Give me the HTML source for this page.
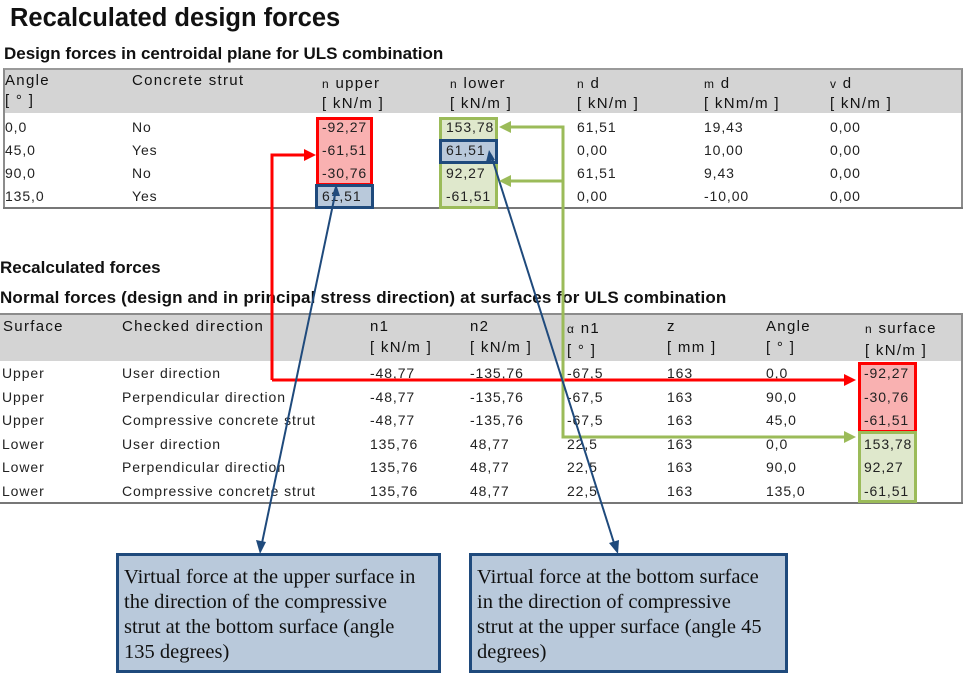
<!DOCTYPE html>
<html><head><meta charset="utf-8"><style>
body{margin:0;width:965px;height:674px;background:#fff;position:relative;overflow:hidden;font-family:"Liberation Sans",Arial,sans-serif;color:#222}
.t{position:absolute;font-size:14px;white-space:nowrap;line-height:16px;letter-spacing:0.9px}
.h{position:absolute;font-size:15px;white-space:nowrap;line-height:20px;color:#111;letter-spacing:1.3px}
.s{font-size:12px}
.b{position:absolute;box-sizing:border-box}
.box{position:absolute;box-sizing:border-box;background:#b9c9db;border:3px solid #1f4a7c;font-family:"Liberation Serif",serif;font-size:20.5px;line-height:25px;color:#111;padding:9px 14px 6px 5px}
</style></head><body>
<div class="t" style="left:10px;top:3px;font-size:25.5px;font-weight:bold;line-height:30px;color:#111;letter-spacing:0">Recalculated design forces</div>
<div class="t" style="left:4px;top:44px;font-size:17px;font-weight:bold;color:#111;letter-spacing:0;line-height:20px">Design forces in centroidal plane for ULS combination</div>

<!-- table 1 -->
<div class="b" style="left:3px;top:68px;width:960px;height:141px;border:2px solid #8c8c8c;border-top-color:#9a9a9a"></div>
<div class="b" style="left:5px;top:70px;width:956px;height:43px;background:#d4d4d4"></div>
<div class="b" style="left:3px;top:207px;width:960px;height:2px;background:#777"></div>
<div class="b" style="left:316px;top:117px;width:57px;height:69px;background:#f9b1b1;border:3px solid #f00"></div>
<div class="b" style="left:315px;top:184px;width:59px;height:25px;background:#b9c9db;border:3px solid #1f4a7c"></div>
<div class="b" style="left:439px;top:117px;width:59px;height:92px;background:#dfe8cc;border:3px solid #9bbb59"></div>
<div class="b" style="left:439px;top:139px;width:59px;height:25px;background:#b9c9db;border:3px solid #1f4a7c"></div>

<div class="h" style="left:5px;top:71px">Angle<br>[ ° ]</div>
<div class="h" style="left:132px;top:71px">Concrete strut</div>
<div class="h" style="left:322px;top:74px"><span class="s">n</span> upper<br>[ kN/m ]</div>
<div class="h" style="left:450px;top:74px"><span class="s">n</span> lower<br>[ kN/m ]</div>
<div class="h" style="left:577px;top:74px"><span class="s">n</span> d<br>[ kN/m ]</div>
<div class="h" style="left:704px;top:74px"><span class="s">m</span> d<br>[ kNm/m ]</div>
<div class="h" style="left:830px;top:74px"><span class="s">v</span> d<br>[ kN/m ]</div>

<div class="t" style="left:5px;top:116px;line-height:23px">0,0<br>45,0<br>90,0<br>135,0</div>
<div class="t" style="left:132px;top:116px;line-height:23px">No<br>Yes<br>No<br>Yes</div>
<div class="t" style="left:322px;top:116px;line-height:23px">-92,27<br>-61,51<br>-30,76<br>61,51</div>
<div class="t" style="left:446px;top:116px;line-height:23px">153,78<br>61,51<br>92,27<br>-61,51</div>
<div class="t" style="left:577px;top:116px;line-height:23px">61,51<br>0,00<br>61,51<br>0,00</div>
<div class="t" style="left:704px;top:116px;line-height:23px">19,43<br>10,00<br>9,43<br>-10,00</div>
<div class="t" style="left:830px;top:116px;line-height:23px">0,00<br>0,00<br>0,00<br>0,00</div>

<div class="t" style="left:0px;top:258px;font-size:17px;font-weight:bold;color:#111;letter-spacing:0;line-height:20px">Recalculated forces</div>
<div class="t" style="left:0px;top:288px;font-size:17px;font-weight:bold;color:#111;letter-spacing:0.15px;line-height:20px">Normal forces (design and in principal stress direction) at surfaces for ULS combination</div>

<!-- table 2 -->
<div class="b" style="left:0px;top:313px;width:963px;height:191px;border:2px solid #8c8c8c;border-left:none"></div>
<div class="b" style="left:0px;top:315px;width:961px;height:46px;background:#d4d4d4"></div>
<div class="b" style="left:0px;top:502px;width:963px;height:2px;background:#777"></div>
<div class="b" style="left:858px;top:362px;width:59px;height:71px;background:#f9b1b1;border:3px solid #f00"></div>
<div class="b" style="left:858px;top:431px;width:59px;height:72px;background:#dfe8cc;border:3px solid #9bbb59"></div>

<div class="h" style="left:3px;top:316px;line-height:21px">Surface</div>
<div class="h" style="left:122px;top:316px;line-height:21px">Checked direction</div>
<div class="h" style="left:370px;top:316px;line-height:21px">n1<br>[ kN/m ]</div>
<div class="h" style="left:470px;top:316px;line-height:21px">n2<br>[ kN/m ]</div>
<div class="h" style="left:567px;top:318px;line-height:21px"><span class="s">α</span> n1<br>[ ° ]</div>
<div class="h" style="left:667px;top:316px;line-height:21px">z<br>[ mm ]</div>
<div class="h" style="left:766px;top:316px;line-height:21px">Angle<br>[ ° ]</div>
<div class="h" style="left:865px;top:318px;line-height:21px"><span class="s">n</span> surface<br>[ kN/m ]</div>

<div class="t" style="left:2px;top:362px;line-height:23.5px">Upper<br>Upper<br>Upper<br>Lower<br>Lower<br>Lower</div>
<div class="t" style="left:122px;top:362px;line-height:23.5px">User direction<br>Perpendicular direction<br>Compressive concrete strut<br>User direction<br>Perpendicular direction<br>Compressive concrete strut</div>
<div class="t" style="left:370px;top:362px;line-height:23.5px">-48,77<br>-48,77<br>-48,77<br>135,76<br>135,76<br>135,76</div>
<div class="t" style="left:470px;top:362px;line-height:23.5px">-135,76<br>-135,76<br>-135,76<br>48,77<br>48,77<br>48,77</div>
<div class="t" style="left:567px;top:362px;line-height:23.5px">-67,5<br>-67,5<br>-67,5<br>22,5<br>22,5<br>22,5</div>
<div class="t" style="left:667px;top:362px;line-height:23.5px">163<br>163<br>163<br>163<br>163<br>163</div>
<div class="t" style="left:766px;top:362px;line-height:23.5px">0,0<br>90,0<br>45,0<br>0,0<br>90,0<br>135,0</div>
<div class="t" style="left:864px;top:362px;line-height:23.5px">-92,27<br>-30,76<br>-61,51<br>153,78<br>92,27<br>-61,51</div>

<svg width="965" height="674" style="position:absolute;left:0;top:0">
<g fill="none" stroke-width="3">
<polyline points="272,380 272,155 305,155" stroke="#f00"/>
<polyline points="272,380 845,380" stroke="#f00"/>
<polyline points="510,127 563,127 563,437 845,437" stroke="#9bbb59"/>
<polyline points="510,181 563,181" stroke="#9bbb59"/>
<line x1="336" y1="190" x2="262" y2="543" stroke="#1f4a7c" stroke-width="2"/>
<line x1="491" y1="155" x2="614" y2="543" stroke="#1f4a7c" stroke-width="2"/>
</g>
<polygon points="316,155 304,149 304,161" fill="#f00"/>
<polygon points="856,380 844,374 844,386" fill="#f00"/>
<polygon points="856,437 844,431 844,443" fill="#9bbb59"/>
<polygon points="499,127 511,121 511,133" fill="#9bbb59"/>
<polygon points="499,181 511,175 511,187" fill="#9bbb59"/>
<polygon points="260,554 256,540 266,542" fill="#1f4a7c"/>
<polygon points="618,554 609,543 619,540" fill="#1f4a7c"/>
<polygon points="336,184 332,196 340,196" fill="#1f4a7c"/>
<polygon points="489,150 486,162 495,160" fill="#1f4a7c"/>
</svg>

<div class="box" style="left:116px;top:553px;width:325px;height:120px">Virtual force at the upper surface in the direction of the compressive strut at the bottom surface (angle 135 degrees)</div>
<div class="box" style="left:469px;top:553px;width:319px;height:120px">Virtual force at the bottom surface in the direction of compressive strut at the upper surface (angle 45 degrees)</div>
</body></html>
